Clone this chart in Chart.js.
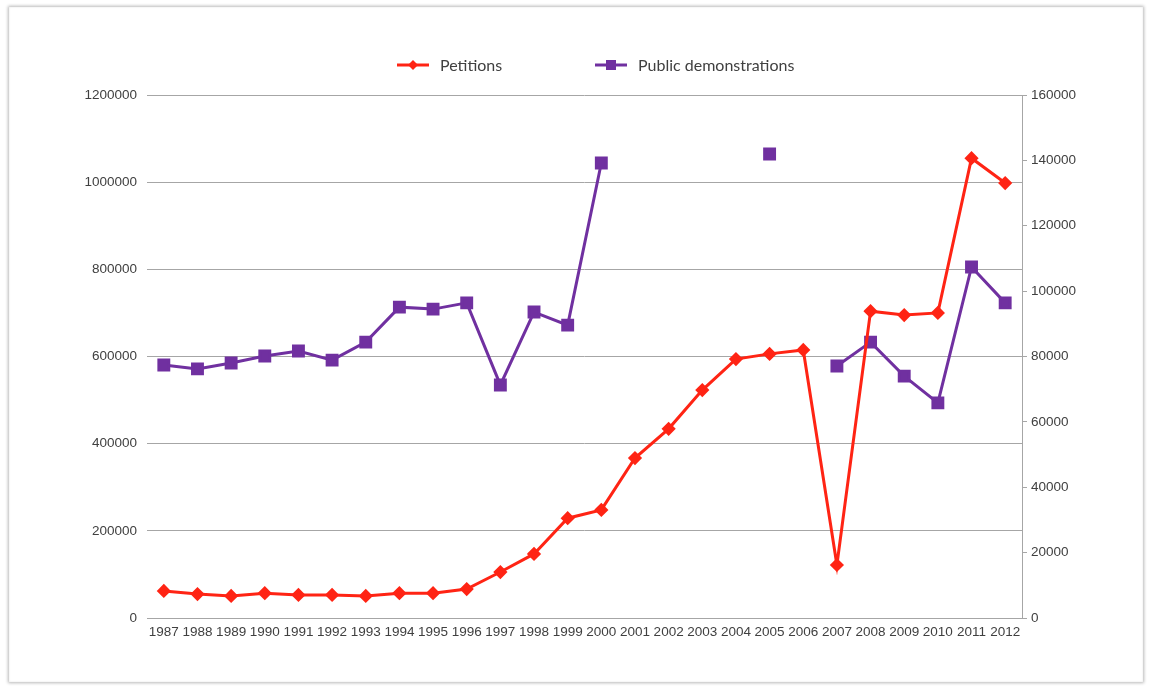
<!DOCTYPE html>
<html>
<head>
<meta charset="utf-8">
<script src="https://cdn.jsdelivr.net/npm/chart.js@4"></script>
<style>
  html, body { margin: 0; padding: 0; background: #fff; }
  #frame {
    position: absolute; left: 9px; top: 7px; width: 1134px; height: 675px;
    background: #fff;
    box-shadow: 0 0 3px 1px rgba(0,0,0,0.28), inset 0 0 2px rgba(0,0,0,0.12);
  }
  #wrap { position: absolute; left: 0; top: 0; width: 1149px; height: 689px; }
</style>
</head>
<body>
<div id="frame"></div>
<div id="wrap"><canvas id="myChart"></canvas></div>
<script>
  const years = ["1987", "1988", "1989", "1990", "1991", "1992", "1993", "1994", "1995", "1996",
    "1997", "1998", "1999", "2000", "2001", "2002", "2003", "2004", "2005", "2006",
    "2007", "2008", "2009", "2010", "2011", "2012"];

  const petitions = [62000, 55000, 50500, 57000, 53000, 53000, 50500, 57000, 57000, 66500,
    105500, 147000, 229000, 248000, 367000, 434000, 523000, 594000, 606000, 615000,
    121600, 704000, 695000, 700000, 1055000, 998000];

  const demonstrations = [77400, 76200, 78000, 80150, 81700, 78900, 84400, 95100, 94500, 96400,
    71300, 93600, 89600, 139200, null, null, null, null, 141950, null,
    77100, 84400, 74000, 65800, 107400, 96400];

  const leftTicks = [0, 200000, 400000, 600000, 800000, 1000000, 1200000];
  const rightTicks = [0, 20000, 40000, 60000, 80000, 100000, 120000, 140000, 160000];

  const red = '#ff2414';
  const purple = '#7030a0';
  const tickFont = { family: 'Liberation Sans', size: 13.5 };

  // legend drawn by hand so the spacing matches the original
  const lineLegend = {
    id: 'lineLegend',
    afterDraw(chart) {
      const ctx = chart.ctx;
      const items = [
        { x: 397, ds: chart.data.datasets[0] },
        { x: 595, ds: chart.data.datasets[1] }
      ];
      const y = 65;
      ctx.save();
      items.forEach(function(it) {
        ctx.strokeStyle = it.ds.borderColor;
        ctx.lineWidth = 3;
        ctx.beginPath();
        ctx.moveTo(it.x, y);
        ctx.lineTo(it.x + 32, y);
        ctx.stroke();
        ctx.fillStyle = it.ds.borderColor;
        if (it.ds.pointStyle === 'rect') {
          ctx.fillRect(it.x + 16 - 5, y - 5, 10, 10);
        } else {
          ctx.beginPath();
          ctx.moveTo(it.x + 16, y - 5);
          ctx.lineTo(it.x + 21, y);
          ctx.lineTo(it.x + 16, y + 5);
          ctx.lineTo(it.x + 11, y);
          ctx.closePath();
          ctx.fill();
        }
        ctx.fillStyle = '#404040';
        ctx.font = '16px Lato, "Open Sans", sans-serif';
        ctx.textBaseline = 'middle';
        ctx.fillText(it.ds.label, it.x + 43, y + 1);
      });
      ctx.restore();
    }
  };

  const ctx = document.getElementById('myChart').getContext('2d');
  const chart = new Chart(ctx, {
    type: 'line',
    data: {
      labels: years,
      datasets: [
        {
          label: 'Petitions',
          data: petitions,
          yAxisID: 'y',
          borderColor: red,
          backgroundColor: red,
          borderWidth: 3,
          pointStyle: 'rectRot',
          pointRadius: 5,
          pointHoverRadius: 5,
          tension: 0
        },
        {
          label: 'Public demonstrations',
          data: demonstrations,
          yAxisID: 'y1',
          borderColor: purple,
          backgroundColor: purple,
          borderWidth: 3,
          pointStyle: 'rect',
          pointRadius: 7,
          pointHoverRadius: 7,
          spanGaps: false,
          tension: 0
        }
      ]
    },
    options: {
      responsive: true,
      maintainAspectRatio: false,
      animation: false,
      layout: { padding: { top: 95, left: 0, right: 0, bottom: 0 } },
      plugins: {
        legend: { display: false },
        tooltip: { enabled: false }
      },
      scales: {
        x: {
          offset: true,
          grid: { display: false, drawTicks: false },
          border: { display: true, color: '#a6a6a6', width: 1 },
          ticks: {
            color: '#404040',
            font: tickFont,
            maxRotation: 0,
            autoSkip: false,
            padding: 6
          },
          afterFit(scale) { scale.height = 71; }
        },
        y: {
          position: 'left',
          min: 0,
          max: 1200000,
          afterBuildTicks(scale) { scale.ticks = leftTicks.map(v => ({ value: v })); },
          grid: { color: '#a6a6a6', drawTicks: false, lineWidth: 1 },
          border: { display: false },
          ticks: {
            color: '#404040',
            font: tickFont,
            padding: 10,
            callback: v => String(v)
          },
          afterFit(scale) { scale.width = 147; }
        },
        y1: {
          position: 'right',
          min: 0,
          max: 160000,
          afterBuildTicks(scale) { scale.ticks = rightTicks.map(v => ({ value: v })); },
          grid: { drawOnChartArea: false, color: '#a6a6a6', tickLength: 5 },
          border: { display: true, color: '#a6a6a6', width: 1 },
          ticks: {
            color: '#404040',
            font: tickFont,
            padding: 4,
            callback: v => String(v)
          },
          afterFit(scale) { scale.width = 127; }
        }
      }
    },
    plugins: [lineLegend]
  });
</script>
</body>
</html>
